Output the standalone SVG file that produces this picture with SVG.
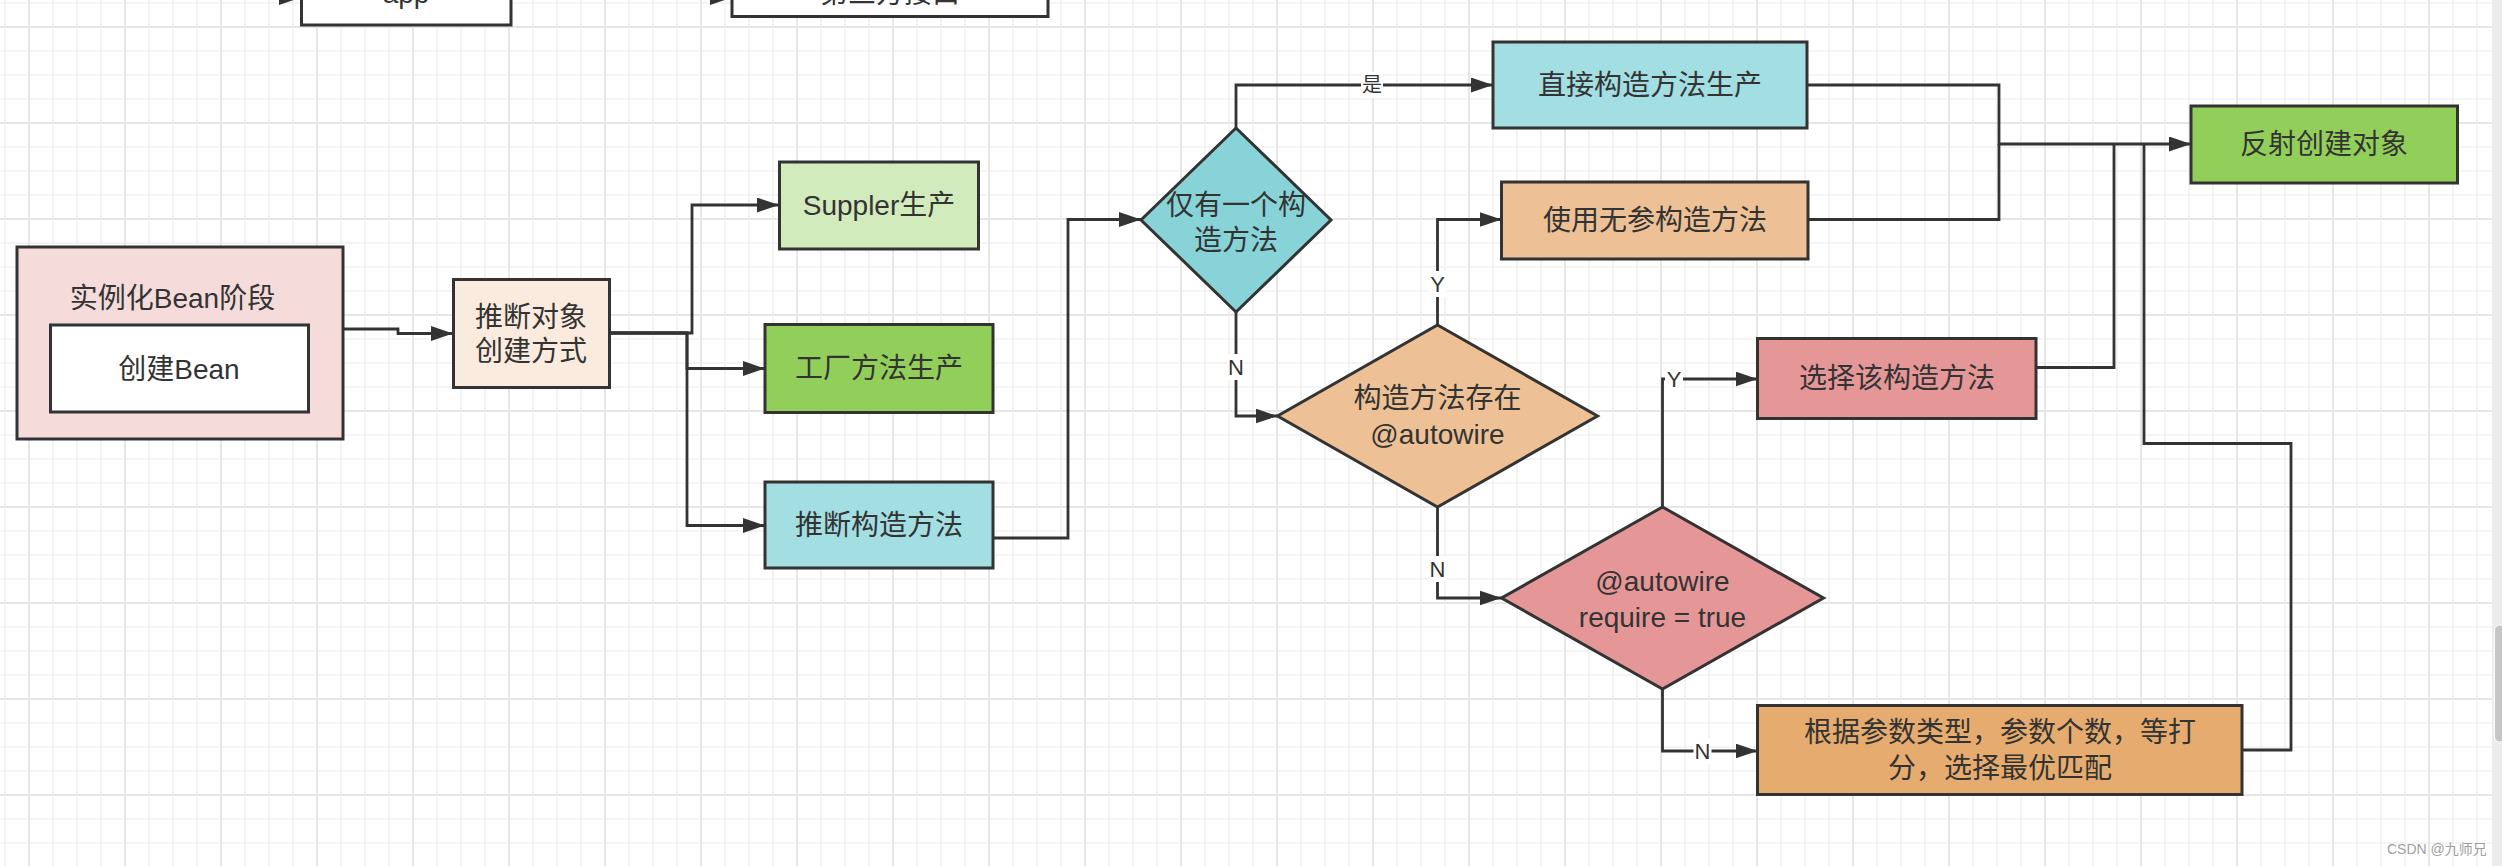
<svg xmlns="http://www.w3.org/2000/svg" width="2502" height="866" viewBox="0 0 2502 866">
<style>
.node{stroke:#333333;stroke-width:3}
.t{font-family:"Liberation Sans","Noto Sans CJK SC",sans-serif;font-size:28px;fill:#333333;text-anchor:middle;dominant-baseline:central}
.lbl{font-family:"Liberation Sans","Noto Sans CJK SC",sans-serif;font-size:22px;fill:#333333;text-anchor:middle;dominant-baseline:central}
.lblbg{fill:#ffffff}
.edge{fill:none;stroke:#333333;stroke-width:2.8}
</style>
<defs>
<pattern id="grid" patternUnits="userSpaceOnUse" x="28" y="26" width="96" height="96">
<rect width="96" height="96" fill="#ffffff"/>
<g stroke="#f1f1f1" stroke-width="1.6">
<line x1="25" y1="0" x2="25" y2="96"/><line x1="49" y1="0" x2="49" y2="96"/><line x1="73" y1="0" x2="73" y2="96"/>
<line x1="0" y1="25" x2="96" y2="25"/><line x1="0" y1="49" x2="96" y2="49"/><line x1="0" y1="73" x2="96" y2="73"/>
</g>
<g stroke="#e6e6e6" stroke-width="2">
<line x1="1" y1="0" x2="1" y2="96"/><line x1="0" y1="1" x2="96" y2="1"/>
</g>
</pattern>
<marker id="arrow" markerUnits="userSpaceOnUse" markerWidth="24" markerHeight="16" refX="22" refY="7.5" orient="auto">
<path d="M0,0 L22,7.5 L0,15 z" fill="#333333"/>
</marker>
</defs>
<rect x="0" y="0" width="2502" height="866" fill="url(#grid)"/>
<rect x="2492" y="0" width="10" height="866" fill="#ececec"/>
<rect x="2494.5" y="625" width="10" height="117" rx="5" fill="#c6c6c6" stroke="#ffffff" stroke-width="1"/>

<g id="top-partial">
<rect x="301.5" y="-60" width="209.5" height="85" fill="#ffffff" class="node"/>
<text x="406" y="3" class="t" style="dominant-baseline:alphabetic">app</text>
<rect x="732" y="-60" width="316" height="76.5" fill="#ffffff" class="node"/>
<text x="890" y="3" class="t" style="dominant-baseline:alphabetic">第三方接口</text>
<path d="M279,-10 L301,-2.5 L279,5 z" fill="#333333"/>
<path d="M710,-10 L732,-2.5 L710,5 z" fill="#333333"/>
</g>

<g id="connectors">
<path class="edge" d="M343,329 H398 V333.5 H453" marker-end="url(#arrow)"/>
<path class="edge" d="M609,333 H692 V205 H779" marker-end="url(#arrow)"/>
<path class="edge" d="M609,333 H687 V368.5 H765" marker-end="url(#arrow)"/>
<path class="edge" d="M609,333 H687 V525.5 H765" marker-end="url(#arrow)"/>
<path class="edge" d="M993,538 H1068 V219.5 H1141" marker-end="url(#arrow)"/>
<path class="edge" d="M1236,128 V85 H1493" marker-end="url(#arrow)"/>
<path class="edge" d="M1236,312 V416 H1277.5" marker-end="url(#arrow)"/>
<path class="edge" d="M1437.5,325 V219.5 H1501.5" marker-end="url(#arrow)"/>
<path class="edge" d="M1437.5,507 V598 H1501.5" marker-end="url(#arrow)"/>
<path class="edge" d="M1662.5,507 V379 H1757.5" marker-end="url(#arrow)"/>
<path class="edge" d="M1662.5,689 V751 H1757.5" marker-end="url(#arrow)"/>
<path class="edge" d="M1807,85 H1999 V144 H2191" marker-end="url(#arrow)"/>
<path class="edge" d="M1808,219.5 H1999 V144"/>
<path class="edge" d="M2036,367.5 H2114 V144"/>
<path class="edge" d="M2242,750 H2291 V443.5 H2144 V144"/>
<rect class="lblbg" x="1361" y="72" width="22" height="26"/>
<text x="1372" y="85" class="lbl" style="font-size:20px">是</text>
<rect class="lblbg" x="1227" y="354" width="18" height="26"/>
<text x="1236" y="367" class="lbl">N</text>
<rect class="lblbg" x="1428.5" y="271" width="18" height="26"/>
<text x="1437.5" y="284" class="lbl">Y</text>
<rect class="lblbg" x="1428.5" y="556" width="18" height="26"/>
<text x="1437.5" y="569" class="lbl">N</text>
<rect class="lblbg" x="1665" y="366" width="18" height="26"/>
<text x="1674" y="379" class="lbl">Y</text>
<rect class="lblbg" x="1693.5" y="738" width="18" height="26"/>
<text x="1702.5" y="751" class="lbl">N</text>
</g>

<g id="stage">
<rect x="17" y="247" width="326" height="192" fill="#f5dcdb" class="node"/>
<text x="172.5" y="298" class="t">实例化Bean阶段</text>
</g>
<g id="createBean">
<rect x="50.5" y="325" width="258" height="87" fill="#ffffff" class="node"/>
<text x="179" y="369" class="t">创建Bean</text>
</g>
<g id="inferWay">
<rect x="453.5" y="279.5" width="156" height="108" fill="#faebde" class="node"/>
<text x="531" y="317" class="t">推断对象</text>
<text x="531" y="351" class="t">创建方式</text>
</g>
<g id="supplier">
<rect x="779.5" y="162" width="199" height="87" fill="#d2ebbc" class="node"/>
<text x="879" y="205" class="t">Suppler生产</text>
</g>
<g id="factory">
<rect x="765" y="324.5" width="228" height="88" fill="#92cf5a" class="node"/>
<text x="879" y="368.5" class="t">工厂方法生产</text>
</g>
<g id="inferCtor">
<rect x="765" y="482" width="228" height="86" fill="#a2dee2" class="node"/>
<text x="879" y="525" class="t">推断构造方法</text>
</g>
<g id="onlyOne">
<polygon points="1236,128 1331,220 1236,312 1141,220" fill="#88d3d8" class="node"/>
<text x="1236" y="205" class="t">仅有一个构</text>
<text x="1236" y="240" class="t">造方法</text>
</g>
<g id="direct">
<rect x="1493" y="42" width="314" height="86" fill="#a2dee2" class="node"/>
<text x="1650" y="85" class="t">直接构造方法生产</text>
</g>
<g id="noArg">
<rect x="1501.5" y="182" width="306.5" height="77" fill="#edc195" class="node"/>
<text x="1655" y="220" class="t">使用无参构造方法</text>
</g>
<g id="hasAutowire">
<polygon points="1437.5,325 1597.5,416 1437.5,507 1277.5,416" fill="#edc195" class="node"/>
<text x="1437.5" y="398" class="t">构造方法存在</text>
<text x="1437.5" y="434" class="t">@autowire</text>
</g>
<g id="chooseThis">
<rect x="1757.5" y="338.5" width="278.5" height="80" fill="#e59797" class="node"/>
<text x="1897" y="378.5" class="t">选择该构造方法</text>
</g>
<g id="required">
<polygon points="1662.5,507 1823.5,598 1662.5,689 1501.5,598" fill="#e59797" class="node"/>
<text x="1662.5" y="581" class="t">@autowire</text>
<text x="1662.5" y="617" class="t">require = true</text>
</g>
<g id="score">
<rect x="1757.5" y="705.5" width="484.5" height="89" fill="#e6ab6e" class="node"/>
<text x="2000" y="732" class="t">根据参数类型，参数个数，等打</text>
<text x="2000" y="768" class="t">分，选择最优匹配</text>
</g>
<g id="reflect">
<rect x="2191" y="106" width="266.5" height="77" fill="#92cf5a" class="node"/>
<text x="2324" y="144.5" class="t">反射创建对象</text>
</g>
<text x="2387" y="854" style="font-family:'Liberation Sans','Noto Sans CJK SC',sans-serif;font-size:14px;fill:#a0a0a0">CSDN @九师兄</text>
</svg>
